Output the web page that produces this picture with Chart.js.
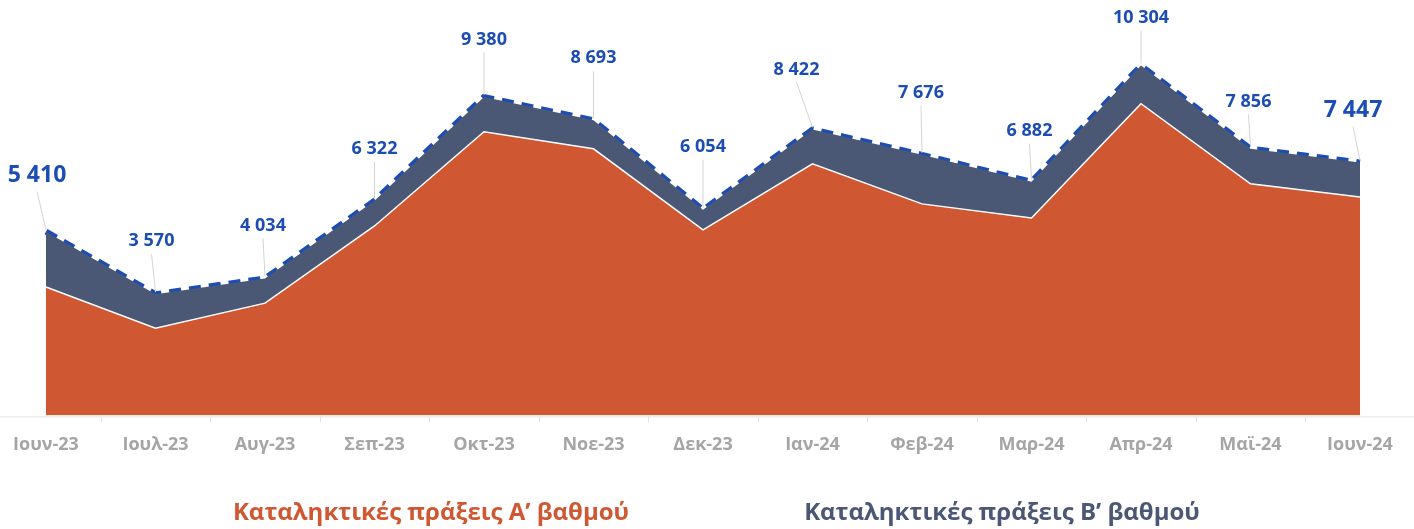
<!DOCTYPE html>
<html lang="el">
<head>
<meta charset="utf-8">
<script src="https://cdn.jsdelivr.net/npm/chart.js@4.4.1/dist/chart.umd.min.js"></script>
<style>
  html, body { margin: 0; padding: 0; background: #ffffff; }
  #wrap { width: 1414px; height: 529px; position: relative; }
</style>
</head>
<body>
<div id="wrap"><canvas id="myChart"></canvas></div>
<script>
// Μήνες (άξονας x)
const mhnes = ['Ιουν-23', 'Ιουλ-23', 'Αυγ-23', 'Σεπ-23', 'Οκτ-23', 'Νοε-23', 'Δεκ-23',
               'Ιαν-24', 'Φεβ-24', 'Μαρ-24', 'Απρ-24', 'Μαϊ-24', 'Ιουν-24'];

// Καταληκτικές πράξεις Α' βαθμού (εκτίμηση από το γράφημα)
const praxeisA = [3780, 2569, 3307, 5580, 8355, 7853, 5462, 7411, 6230, 5816, 9182, 6820, 6436];
// Καταληκτικές πράξεις Β' βαθμού (εκτίμηση από το γράφημα)
const praxeisB = [1630, 1001, 727, 742, 1025, 840, 592, 1011, 1446, 1066, 1122, 1036, 1011];
// Σύνολο (ετικέτες)
const synolo = [5410, 3570, 4034, 6322, 9380, 8693, 6054, 8422, 7676, 6882, 10304, 7856, 7447];

const labelA = 'Καταληκτικές πράξεις Α’ βαθμού';
const labelB = 'Καταληκτικές πράξεις Β’ βαθμού';

// χρώματα
const portokali = '#cf5833';
const gkri = '#4a5876';
const mple = '#1c4db3';

// μετατόπιση των ετικετών από το σημείο (όπως στο Excel)
const labelDx = [-9, -4, -2, 0, 0, 0, 0, -16, -1, -2, 0, -2, -7];
const labelDy = [56, 53, 53, 52, 57, 62, 63, 60, 62, 51, 48, 47, 52];

const FONT = "'Open Sans', 'Noto Sans', sans-serif";

// ετικέτες δεδομένων με γραμμές οδηγούς
const etiketes = {
    id: 'etiketes',
    afterDatasetsDraw(chart) {
        const ctx = chart.ctx;
        const meta = chart.getDatasetMeta(2);
        ctx.save();
        meta.data.forEach((pt, i) => {
            const big = (i === 0 || i === meta.data.length - 1);
            const size = big ? 23 : 18;
            const lx = pt.x + labelDx[i];
            const ly = pt.y - labelDy[i];
            // γραμμή οδηγός
            ctx.strokeStyle = '#d4d4d4';
            ctx.lineWidth = 1;
            ctx.beginPath();
            ctx.moveTo(lx, ly + size * 0.6 + 2);
            ctx.lineTo(pt.x, pt.y - 2);
            ctx.stroke();
            // κείμενο
            ctx.font = 'bold ' + size + 'px ' + FONT;
            ctx.fillStyle = mple;
            ctx.textAlign = 'center';
            ctx.textBaseline = 'middle';
            const txt = synolo[i].toLocaleString('fr-FR').replace(/\s/g, ' ');
            ctx.fillText(txt, lx, ly);
        });
        ctx.restore();
    }
};

// γραμμή άξονα και διαχωριστικά μεταξύ κατηγοριών
const axonas = {
    id: 'axonas',
    beforeDatasetsDraw(chart) {
        const ctx = chart.ctx;
        const x = chart.scales.x;
        const y0 = chart.chartArea.bottom + 1;
        ctx.save();
        ctx.strokeStyle = '#e3e3e3';
        ctx.lineWidth = 1;
        ctx.beginPath();
        ctx.moveTo(0, y0 + 0.5);
        ctx.lineTo(chart.width, y0 + 0.5);
        for (let i = 0; i < mhnes.length - 1; i++) {
            const mx = Math.round((x.getPixelForValue(i) + x.getPixelForValue(i + 1)) / 2) + 0.5;
            ctx.moveTo(mx, y0);
            ctx.lineTo(mx, y0 + 6);
        }
        ctx.stroke();
        ctx.restore();
    }
};

// υπόμνημα μόνο με κείμενο, κάτω από τον άξονα
const ypomnima = {
    id: 'ypomnima',
    afterDraw(chart) {
        const ctx = chart.ctx;
        ctx.save();
        ctx.font = 'bold 24px ' + FONT;
        ctx.textAlign = 'center';
        ctx.textBaseline = 'middle';
        ctx.fillStyle = portokali;
        ctx.fillText(labelA, 431, 513);
        ctx.fillStyle = gkri;
        ctx.fillText(labelB, 1002, 513);
        ctx.restore();
    }
};

let myChart;

document.addEventListener('DOMContentLoaded', function() {
    const ctx = document.getElementById('myChart').getContext('2d');

    myChart = new Chart(ctx, {
        type: 'line',
        data: {
            labels: mhnes,
            datasets: [{
                label: labelA,
                data: praxeisA,
                backgroundColor: portokali,
                borderColor: '#ffffff',
                borderWidth: 1.5,
                fill: 'origin',
                pointRadius: 0,
                stack: 'a'
            }, {
                label: labelB,
                data: praxeisB,
                backgroundColor: gkri,
                borderColor: gkri,
                borderWidth: 0,
                fill: '-1',
                pointRadius: 0,
                stack: 'a'
            }, {
                label: 'Σύνολο',
                data: synolo,
                borderColor: mple,
                borderWidth: 6,
                borderDash: [12, 8],
                fill: false,
                pointRadius: 0,
                stack: 'synolo'
            }]
        },
        options: {
            responsive: true,
            maintainAspectRatio: false,
            animation: false,
            layout: {
                padding: { left: 46, right: 54, top: 8, bottom: 54 }
            },
            scales: {
                x: {
                    offset: false,
                    grid: { display: false, drawTicks: false },
                    border: { display: false },
                    afterFit(scale) {
                        // οι ετικέτες άκρων να μη μετακινούν την περιοχή του γραφήματος
                        scale.paddingLeft = 0;
                        scale.paddingRight = 0;
                    },
                    ticks: {
                        color: '#a5a5a5',
                        font: { family: FONT, size: 18, weight: 'bold' },
                        padding: 19,
                        maxRotation: 0,
                        autoSkip: false
                    }
                },
                y: {
                    display: false,
                    stacked: true,
                    min: 0,
                    max: 12000
                }
            },
            plugins: {
                legend: { display: false },
                tooltip: { enabled: false }
            }
        },
        plugins: [axonas, etiketes, ypomnima]
    });
});
</script>
</body>
</html>
